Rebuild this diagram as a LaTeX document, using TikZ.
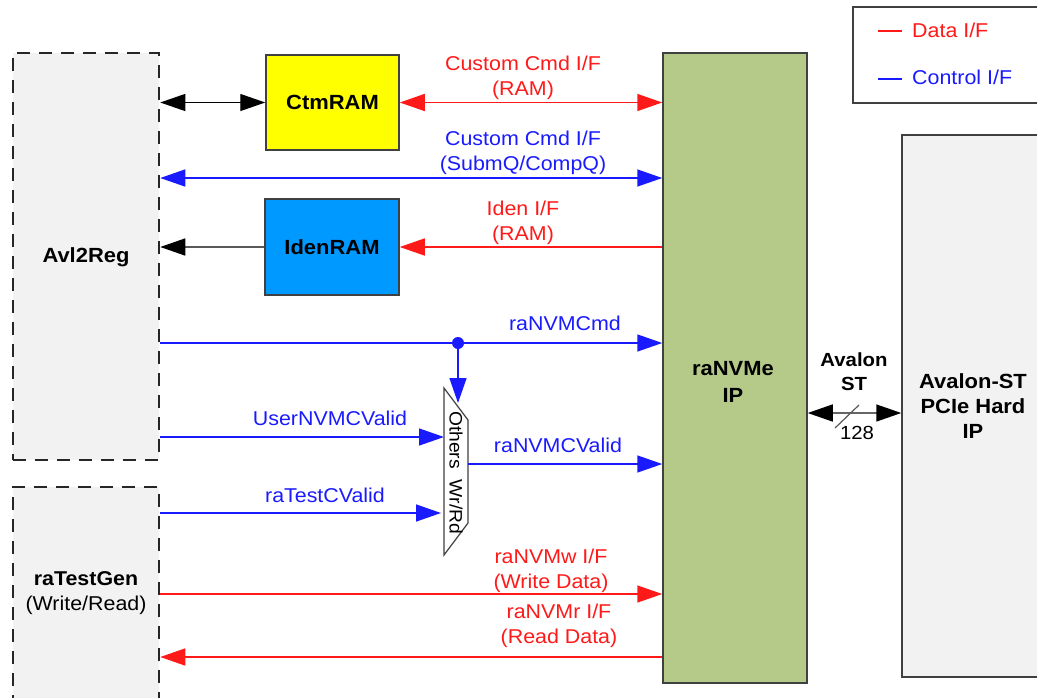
\documentclass[tikz,border=0pt]{standalone}
\usepackage{fontspec}
\setmainfont{Liberation Sans}[FakeStretch=1.07]
\usetikzlibrary{arrows.meta}
\definecolor{myred}{HTML}{FF1A1A}
\definecolor{myblue}{HTML}{1A1AFF}
\definecolor{boxgray}{HTML}{404040}
\definecolor{dashgray}{HTML}{262626}
\definecolor{lightfill}{HTML}{F2F2F2}
\definecolor{ctmyellow}{HTML}{FFFF00}
\definecolor{idenblue}{HTML}{0099FF}
\definecolor{nvgreen}{HTML}{B5C988}
\begin{document}
\begin{tikzpicture}[x=1pt,y=-1pt,
  box/.style={draw=boxgray, line width=1.5pt, inner sep=0pt},
  dbox/.style={draw=dashgray, line width=2.5pt, dash pattern=on 13pt off 9pt, fill=lightfill, inner sep=0pt},
  lbl/.style={font=\fontsize{20}{25}\selectfont, align=center, inner sep=0pt},
  blbl/.style={font=\fontsize{20.5}{27}\selectfont\bfseries, align=center, inner sep=0pt},
  rlbl/.style={lbl, text=myred},
  bllbl/.style={lbl, text=myblue},
  tip/.style={-{Triangle[length=25pt,width=17pt]}},
  dtip/.style={{Triangle[length=25pt,width=17pt]}-{Triangle[length=25pt,width=17pt]}},
  ktip/.style={-{Triangle[length=25pt,width=17pt,color=black]}},
  kdtip/.style={{Triangle[length=25pt,width=17pt,color=black]}-{Triangle[length=25pt,width=17pt,color=black]}},
  redarr/.style={draw=myred, line width=1.5pt, fill=myred},
  bluarr/.style={draw=myblue, line width=1.5pt, fill=myblue},
  blkarr/.style={draw=black, line width=1.3pt, fill=black}]
\useasboundingbox (0,0) rectangle (1037,697);

% row coordinates
\coordinate (ySub) at (0,178);
\coordinate (yCmd) at (0,343);
\coordinate (yUser) at (0,437);
\coordinate (yValid) at (0,464);
\coordinate (yTest) at (0,513);
\coordinate (yW) at (0,594);
\coordinate (yR) at (0,657);
\coordinate (yAv) at (0,413);

% boxes
\node[dbox, minimum width=146pt, minimum height=407pt] (avl) at (86,256.5) {};
\node[blbl] (avltxt) at (86,257) {Avl2Reg};
\node[dbox, minimum width=146pt, minimum height=226pt] (gen) at (86,600) {};
\node[lbl] (gentxt) at (86,593) {\bfseries raTestGen\\(Write/Read)};
\node[box, blbl, fill=ctmyellow, minimum width=133pt, minimum height=95pt] (ctm) at (332.5,102.5) {CtmRAM};
\node[box, blbl, fill=idenblue, minimum width=134pt, minimum height=96pt] (iden) at (332,247) {IdenRAM};
\node[box, fill=nvgreen, minimum width=144pt, minimum height=630pt] (nv) at (735,368) {};
\node[blbl] (nvtxt) at (733,382) {raNVMe\\IP};
\node[box, fill=lightfill, minimum width=150pt, minimum height=542pt] (pcie) at (977,406) {};
\node[blbl, font=\fontsize{20.5}{25}\selectfont\bfseries] (pcietxt) at (973,406) {Avalon-ST\\PCIe Hard\\IP};

% legend
\node[box, fill=white, minimum width=200pt, minimum height=96pt] (leg) at (953,55) {};
\coordinate (legR1) at (878,31);
\coordinate (legR2) at (902,31);
\coordinate (legB1) at (878,79);
\coordinate (legB2) at (902,79);
\draw[draw=myred, line width=1.3pt] (legR1) -- (legR2);
\draw[draw=myblue, line width=1.3pt] (legB1) -- (legB2);
\node[rlbl, anchor=west] (legdata) at (912,30) {Data I/F};
\node[bllbl, anchor=west] (legctrl) at (912,77) {Control I/F};

% mux
\coordinate (mA) at (444,388);
\coordinate (mB) at (468,420);
\coordinate (mC) at (468,523);
\coordinate (mD) at (444,555);
\draw[draw=boxgray, line width=1.2pt, fill=white] (mA) -- (mB) -- (mC) -- (mD) -- cycle;
\node[lbl, rotate=-90, font=\fontsize{18}{20}\selectfont] (mothers) at (456,440) {Others};
\node[lbl, rotate=-90, font=\fontsize{18}{20}\selectfont] (mwrrd) at (456,507) {Wr/Rd};
\coordinate (muxin1) at (444,437);
\coordinate (muxin2) at (441,513);
\coordinate (muxout) at (468,464);
\coordinate (muxtop) at (458,403);

% connectors
\draw[blkarr, kdtip] (ctm.west -| avl.east) -- (ctm.west);
\draw[redarr, dtip] (ctm.east) -- (ctm.east -| nv.west);
\draw[bluarr, dtip] (avl.east |- ySub) -- (nv.west |- ySub);
\draw[redarr, tip] (iden.east -| nv.west) -- (iden.east);
\draw[draw=black!65, line width=1.5pt, ktip] (iden.west) -- (iden.west -| avl.east);
\draw[bluarr, tip] (avl.east |- yCmd) -- (nv.west |- yCmd);
\node[circle, fill=myblue, inner sep=0pt, minimum size=12pt] (dot) at (458,343) {};
\draw[bluarr, tip] (dot.center) -- (muxtop);
\draw[bluarr, tip] (avl.east |- yUser) -- (muxin1);
\draw[bluarr, tip] (gen.east |- yTest) -- (muxin2);
\draw[bluarr, tip] (muxout) -- (nv.west |- yValid);
\draw[redarr, tip] (gen.east |- yW) -- (nv.west |- yW);
\draw[redarr, tip] (nv.west |- yR) -- (gen.east |- yR);
\draw[draw=black!60, line width=1.5pt, kdtip] (nv.east |- yAv) -- (pcie.west |- yAv);
\coordinate (sl1) at (835,428);
\coordinate (sl2) at (859,405);
\draw[draw=black!65, line width=1.2pt] (sl1) -- (sl2);

% labels
\node[rlbl] (l1) at (523,78) {Custom Cmd I/F\\(RAM)};
\node[bllbl] (l2) at (523,153) {Custom Cmd I/F\\(SubmQ/CompQ)};
\node[rlbl] (l3) at (523,223) {Iden I/F\\(RAM)};
\node[bllbl] (l4) at (565,323) {raNVMCmd};
\node[bllbl] (l5) at (330,418) {UserNVMCValid};
\node[bllbl] (l6) at (325,495) {raTestCValid};
\node[bllbl] (l7) at (558,445) {raNVMCValid};
\node[rlbl] (l8) at (551,571) {raNVMw I/F\\(Write Data)};
\node[rlbl] (l9) at (559,626) {raNVMr I/F\\(Read Data)};
\node[blbl, font=\fontsize{19}{24}\selectfont\bfseries] (l10) at (854,372) {Avalon\\ST};
\node[lbl, font=\fontsize{19}{20}\selectfont] (l11) at (857,433) {128};
\end{tikzpicture}
\end{document}
